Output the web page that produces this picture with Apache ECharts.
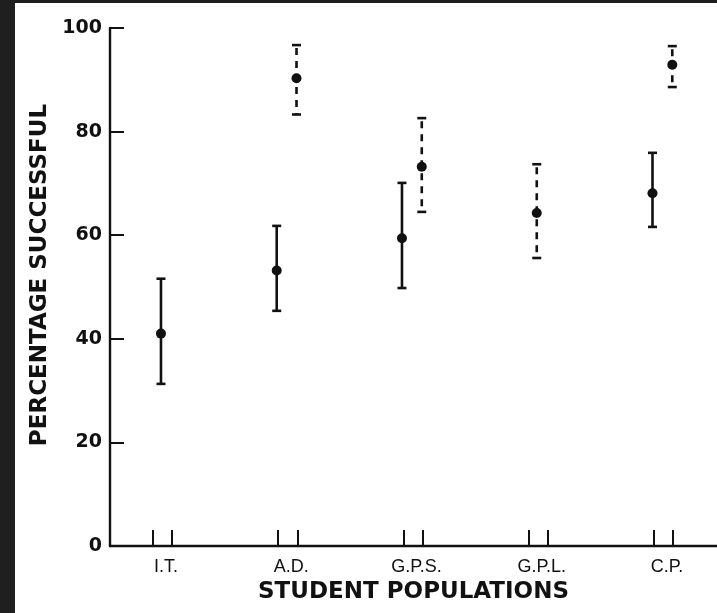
<!DOCTYPE html>
<html>
<head>
<meta charset="utf-8">
<script src="https://cdn.jsdelivr.net/npm/echarts@6/dist/echarts.min.js"></script>
<style>
    html, body { margin: 0; padding: 0; background: #1f1f1f; }
    #chart { position: absolute; left: 15px; top: 3px; width: 702px; height: 610px; background: #fff; }
</style>
</head>
<body>
<div id="chart"></div>
<script>
    /*学生群体 成功率*/
    var categories = ['I.T.', 'A.D.', 'G.P.S.', 'G.P.L.', 'C.P.'];

    // 实线组 (null = 无)
    var solidMean = [41, 53.2, 59.4, null, 68.1];
    var solidLow = [31.3, 45.4, 49.8, null, 61.6];
    var solidHigh = [51.6, 61.8, 70.1, null, 75.9];

    // 虚线组
    var dashedMean = [null, 90.3, 73.2, 64.3, 92.9];
    var dashedLow = [null, 83.3, 64.5, 55.6, 88.6];
    var dashedHigh = [null, 96.7, 82.6, 73.7, 96.5];

    var yTicks = [0, 20, 40, 60, 80, 100];

    var ink = '#111';

    function buildData(mean, low, high, other, shift) {
        var out = [];
        for (var i = 0; i < categories.length; i++) {
            if (mean[i] == null) {
                continue;
            }
            // 两组都有时左右错开, 单独一组时居中
            var x = other[i] == null ? i - 0.012 : i + shift;
            out.push([x, low[i], high[i], mean[i]]);
        }
        return out;
    }

    function errorItem(dashed) {
        return function (params, api) {
            var x = api.value(0);
            var pHi = api.coord([x, api.value(2)]);
            var pLo = api.coord([x, api.value(1)]);
            var pM = api.coord([x, api.value(3)]);
            var capW = 4.5;
            var style = { stroke: ink, lineWidth: 2.6 };
            var barStyle = { stroke: ink, lineWidth: 2.6 };
            if (dashed) {
                barStyle.lineDash = [7, 6];
                barStyle.lineDashOffset = -3;
            }
            return {
                type: 'group',
                children: [
                    { type: 'line', shape: { x1: pHi[0], y1: pHi[1], x2: pLo[0], y2: pLo[1] }, style: barStyle },
                    { type: 'line', shape: { x1: pHi[0] - capW, y1: pHi[1], x2: pHi[0] + capW, y2: pHi[1] }, style: style },
                    { type: 'line', shape: { x1: pLo[0] - capW, y1: pLo[1], x2: pLo[0] + capW, y2: pLo[1] }, style: style },
                    { type: 'circle', shape: { cx: pM[0], cy: pM[1], r: 5 }, style: { fill: ink } }
                ]
            };
        };
    }

    var tickValues = [];
    var labelValues = [];
    for (var i = 0; i < categories.length; i++) {
        tickValues.push(i - 0.077, i + 0.077);
        labelValues.push(i);
    }

    var chart = echarts.init(document.getElementById('chart'));

    var option = {
        animation: false,
        grid: {
            left: 95,
            right: 0,
            top: 25,
            bottom: 67
        },
        xAxis: {
            type: 'value',
            min: -0.419,
            max: 4.427,
            name: 'STUDENT POPULATIONS',
            nameLocation: 'middle',
            nameGap: 35,
            nameTextStyle: {
                color: ink,
                fontFamily: 'DejaVu Sans',
                fontWeight: 'bold',
                fontSize: 23
            },
            axisLine: {
                onZero: false,
                lineStyle: { color: ink, width: 2.4 }
            },
            axisTick: {
                inside: true,
                length: 16,
                customValues: tickValues,
                lineStyle: { color: ink, width: 2 }
            },
            axisLabel: {
                customValues: labelValues,
                margin: 12,
                color: ink,
                fontFamily: 'Liberation Sans',
                fontSize: 18,
                padding: [0, 0, 0, 7],
                formatter: function (v) {
                    return categories[Math.round(v)];
                }
            },
            splitLine: {
                show: false
            }
        },
        yAxis: {
            type: 'value',
            min: 0,
            max: 100,
            interval: 20,
            name: 'PERCENTAGE SUCCESSFUL',
            nameLocation: 'middle',
            nameGap: 58,
            nameTextStyle: {
                color: ink,
                fontFamily: 'DejaVu Sans',
                fontWeight: 'bold',
                fontSize: 23,
                padding: [0, 0, 0, 24]
            },
            axisLine: {
                onZero: false,
                lineStyle: { color: ink, width: 2.4 }
            },
            axisTick: {
                inside: true,
                length: 14,
                lineStyle: { color: ink, width: 2 }
            },
            axisLabel: {
                margin: 8,
                color: ink,
                fontFamily: 'DejaVu Sans',
                fontWeight: 'bold',
                fontSize: 19,
                formatter: function (v) {
                    return yTicks.indexOf(v) >= 0 ? String(v) : '';
                }
            },
            splitLine: {
                show: false
            }
        },
        series: [
            {
                name: 'solid',
                type: 'custom',
                renderItem: errorItem(false),
                encode: { x: 0, y: [1, 2, 3] },
                data: buildData(solidMean, solidLow, solidHigh, dashedMean, -0.088)
            },
            {
                name: 'dashed',
                type: 'custom',
                renderItem: errorItem(true),
                encode: { x: 0, y: [1, 2, 3] },
                data: buildData(dashedMean, dashedLow, dashedHigh, solidMean, 0.07)
            }
        ]
    };

    chart.setOption(option);
</script>
</body>
</html>
